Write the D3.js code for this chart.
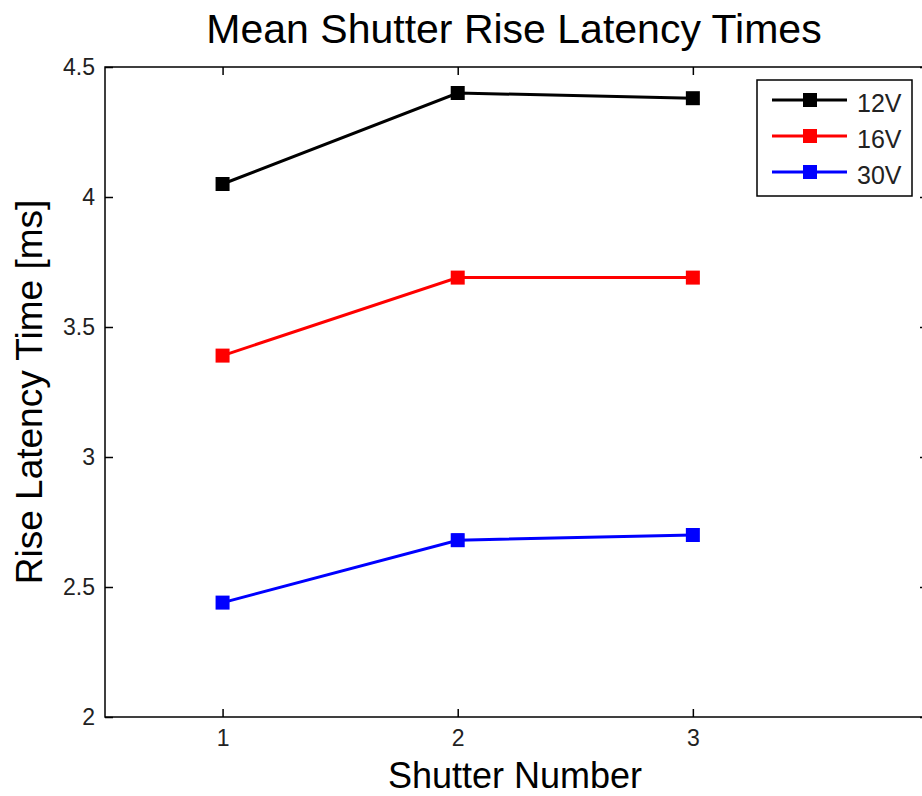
<!DOCTYPE html>
<html>
<head>
<meta charset="utf-8">
<script src="https://cdn.jsdelivr.net/npm/d3@7"></script>
<style>
  html, body { margin: 0; padding: 0; background: #fff; }
  svg { display: block; font-family: "Liberation Sans", Arial, sans-serif; }
</style>
</head>
<body>
<svg id="chart" width="922" height="796"></svg>
<script>
// Shutter numbers along the x axis
const shutters = [1, 2, 3];
// Mean rise latency (ms) per drive voltage
const series12V = [4.05, 4.40, 4.38];
const series16V = [3.39, 3.69, 3.69];
const series30V = [2.44, 2.68, 2.70];
// Small spread shown on each mean
const err12V = [0, 0, 0];
const err16V = [0, 0, 0];
const err30V = [0, 0.02, 0];
const seriesNames = ["12V", "16V", "30V"];
const seriesColors = ["#000000", "#ff0000", "#0000ff"];
const xTicks = [1, 2, 3];
const yTicks = [2, 2.5, 3, 3.5, 4, 4.5];
const yTickLabels = ["2", "2.5", "3", "3.5", "4", "4.5"];

const series = [series12V, series16V, series30V].map((vals, i) => ({
  name: seriesNames[i],
  color: seriesColors[i],
  err: [err12V, err16V, err30V][i],
  points: shutters.map((s, j) => ({ x: s, y: vals[j] }))
}));

const svg = d3.select("#chart");
const plotLeft = 105, plotTop = 67, plotBottom = 717, plotRight = 928;

const x = d3.scaleLinear().domain([0.5, 4]).range([plotLeft, plotRight]);
const y = d3.scaleLinear().domain([2, 4.5]).range([plotBottom, plotTop]);

const tickLen = 8;
const axisColor = "#000";
const labelColor = "#222";

// Frame and ticks (box style, ticks pointing inward on all sides)
const frame = svg.append("g").attr("stroke", axisColor).attr("stroke-width", 1.5).attr("fill", "none");
frame.append("rect").attr("x", plotLeft).attr("y", plotTop)
  .attr("width", plotRight - plotLeft).attr("height", plotBottom - plotTop);

const xAxis = d3.axisBottom(x).tickValues(xTicks).tickSize(-tickLen).tickPadding(13).tickFormat(d3.format("d"));
const gx = svg.append("g").attr("transform", `translate(0,${plotBottom})`).call(xAxis);
const xAxisTop = d3.axisTop(x).tickValues(xTicks).tickSize(-tickLen).tickFormat("");
const gxt = svg.append("g").attr("transform", `translate(0,${plotTop})`).call(xAxisTop);

const yAxis = d3.axisLeft(y).tickValues(yTicks).tickSize(-tickLen).tickPadding(10)
  .tickFormat((d, i) => yTickLabels[i]);
const gy = svg.append("g").attr("transform", `translate(${plotLeft},0)`).call(yAxis);
const yAxisRight = d3.axisRight(y).tickValues(yTicks).tickSize(-tickLen).tickFormat("");
const gyr = svg.append("g").attr("transform", `translate(${plotRight},0)`).call(yAxisRight);

[gx, gxt, gy, gyr].forEach(g => {
  g.select(".domain").remove();
  g.selectAll(".tick line").attr("stroke", axisColor).attr("stroke-width", 1.5);
  g.selectAll(".tick text").attr("fill", labelColor).style("font-size", "23px")
    .style("font-family", "'Liberation Sans', Arial, sans-serif");
});

// Data lines, error bars and square markers
const line = d3.line().x(d => x(d.x)).y(d => y(d.y));
const plot = svg.append("g");
series.forEach(s => {
  const g = plot.append("g");
  g.append("path").datum(s.points).attr("d", line)
    .attr("fill", "none").attr("stroke", s.color).attr("stroke-width", 3);
  s.points.forEach((p, j) => {
    const e = s.err[j];
    if (e > 0) {
      g.append("line").attr("x1", x(p.x)).attr("x2", x(p.x))
        .attr("y1", y(p.y - e)).attr("y2", y(p.y + e))
        .attr("stroke", s.color).attr("stroke-width", 3);
      [p.y - e, p.y + e].forEach(v => {
        g.append("line").attr("x1", x(p.x) - 6).attr("x2", x(p.x) + 6)
          .attr("y1", y(v)).attr("y2", y(v))
          .attr("stroke", s.color).attr("stroke-width", 3);
      });
    }
  });
  g.selectAll("rect.marker").data(s.points).join("rect")
    .attr("class", "marker")
    .attr("x", d => x(d.x) - 7).attr("y", d => y(d.y) - 7)
    .attr("width", 14).attr("height", 14)
    .attr("fill", s.color);
});

// Title and axis labels
svg.append("text").attr("x", 514).attr("y", 43).attr("text-anchor", "middle")
  .style("font-size", "41px").text("Mean Shutter Rise Latency Times");
svg.append("text").attr("x", 515).attr("y", 788).attr("text-anchor", "middle")
  .style("font-size", "36px").text("Shutter Number");
svg.append("text").attr("transform", `translate(42,392) rotate(-90)`)
  .attr("text-anchor", "middle").style("font-size", "37px").text("Rise Latency Time [ms]");

// Legend
const legX = 757, legY = 80, legW = 155, legH = 116;
const legend = svg.append("g");
legend.append("rect").attr("x", legX).attr("y", legY).attr("width", legW).attr("height", legH)
  .attr("fill", "#fff").attr("stroke", "#000").attr("stroke-width", 1.5);
series.forEach((s, i) => {
  const cy = legY + 20 + i * 36;
  legend.append("line").attr("x1", legX + 15).attr("x2", legX + 90).attr("y1", cy).attr("y2", cy)
    .attr("stroke", s.color).attr("stroke-width", 3);
  legend.append("rect").attr("x", legX + 53 - 7).attr("y", cy - 7).attr("width", 14).attr("height", 14)
    .attr("fill", s.color);
  legend.append("text").attr("x", legX + 100).attr("y", cy + 12)
    .style("font-size", "25px").attr("fill", labelColor).text(s.name);
});
</script>
</body>
</html>
